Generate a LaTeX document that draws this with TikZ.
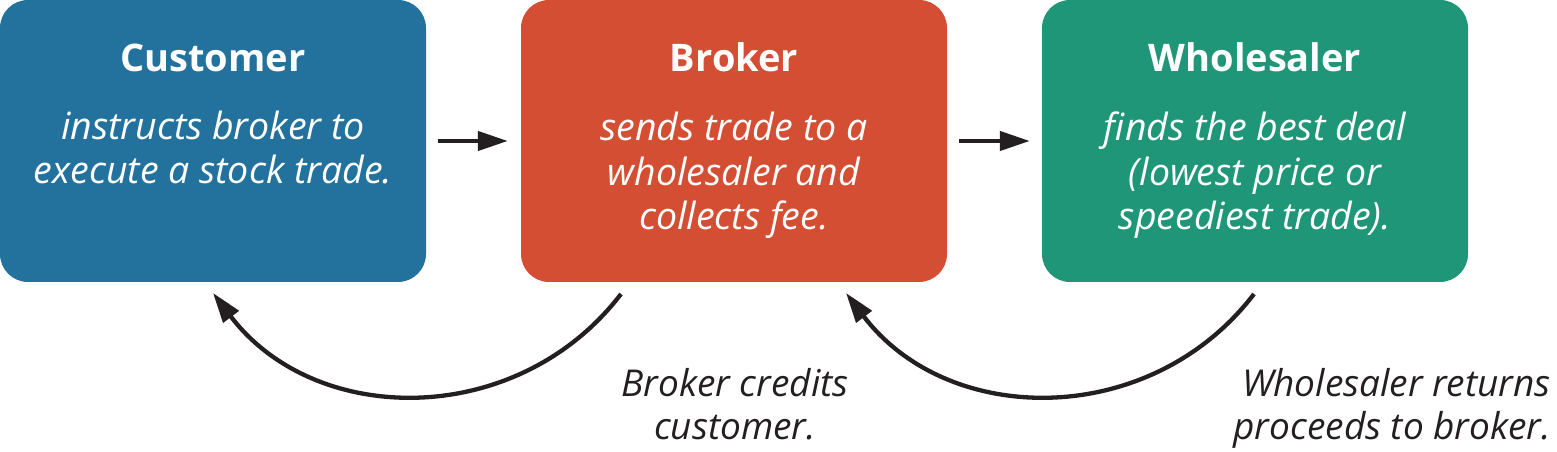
\documentclass[tikz,border=0pt]{standalone}
\usepackage{fontspec}
\setmainfont{Open Sans}
\usetikzlibrary{arrows.meta}
\definecolor{custblue}{HTML}{23729E}
\definecolor{brokred}{HTML}{D34E33}
\definecolor{wholegreen}{HTML}{1E9677}
\definecolor{ink}{HTML}{231F20}
\tikzset{
  box/.style={rounded corners=28pt, minimum width=426pt, minimum height=282pt, inner sep=0pt, draw=none},
  title/.style={anchor=base, text=white, inner sep=0pt, font=\fontsize{38}{44}\selectfont\bfseries},
  body/.style={anchor=base, text=white, inner sep=0pt, align=center, font=\fontsize{37.5}{44.5}\selectfont\itshape},
  note/.style={anchor=base, text=ink, inner sep=0pt, align=center, font=\fontsize{37}{44}\selectfont\itshape},
  flow/.style={draw=ink, line width=4.3pt, -{Triangle[length=30pt,width=19pt]}},
}
\begin{document}
\begin{tikzpicture}[x=1pt,y=1pt]
\useasboundingbox (0,0) rectangle (1557,452);
\node[box, fill=custblue] (cust) at (213,311) {};
\node[box, fill=brokred] (brok) at (734,311) {};
\node[box, fill=wholegreen] (whol) at (1255,311) {};
\node[title] (custT) at (213,380) {Customer};
\node[title] (brokT) at (734,380) {Broker};
\node[title] (wholT) at (1255,380) {Wholesaler};
\node[body] (custB) at (213,268) {instructs broker to\\execute a stock trade.};
\node[body] (brokB) at (734,222) {sends trade to a\\wholesaler and\\collects fee.};
\node[body] (wholB) at (1255,222) {finds the best deal\\(lowest price or\\speediest trade).};
\node[note] (n1) at (735,12) {Broker credits\\customer.};
\node[note, anchor=base east, align=right] (n2) at (1551,12) {Wholesaler returns\\proceeds to broker.};
\draw[flow] ([xshift=12pt]cust.east) -- ([xshift=-13pt]brok.west);
\draw[flow] ([xshift=12pt]brok.east) -- ([xshift=-12pt]whol.west);
\coordinate (s1) at (621,158);
\coordinate (e1) at (213,159);
\coordinate (s2) at (1254,158);
\coordinate (e2) at (846,159);
\draw[flow] (s1) .. controls (517.9,23.2) and (315.6,23.8) .. (e1);
\draw[flow] (s2) .. controls (1150.9,23.2) and (948.6,23.8) .. (e2);
\end{tikzpicture}
\end{document}
